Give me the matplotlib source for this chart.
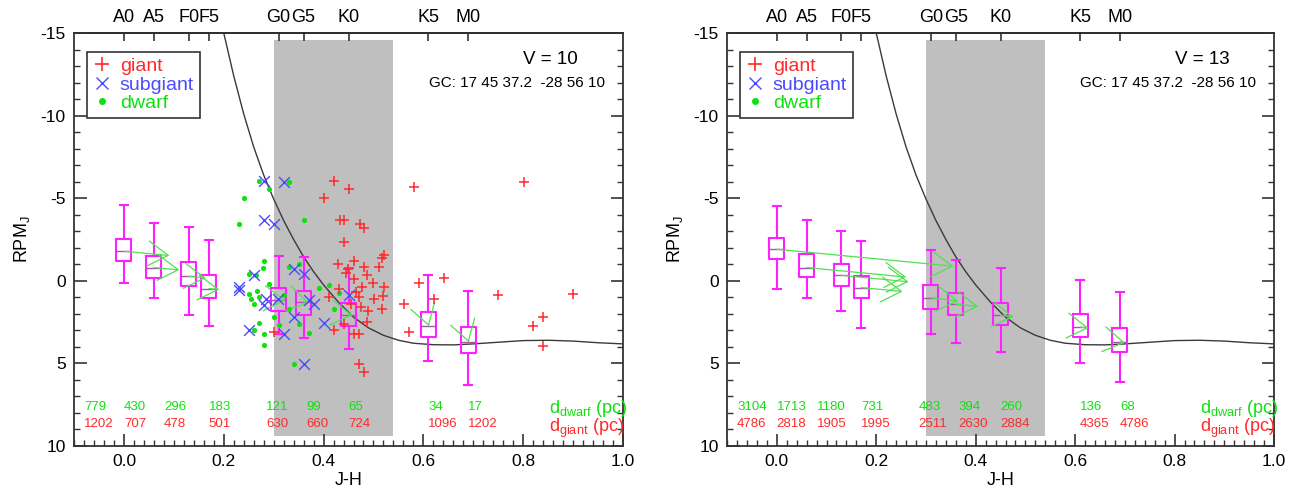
import numpy as np
import matplotlib
matplotlib.use("Agg")
import matplotlib.pyplot as plt
from matplotlib.lines import Line2D
from matplotlib.patches import Rectangle
from matplotlib.ticker import MultipleLocator, FormatStrFormatter

plt.rcParams['font.family'] = ['Liberation Sans', 'DejaVu Sans']
plt.rcParams['mathtext.fontset'] = 'custom'
plt.rcParams['mathtext.rm'] = 'Liberation Sans'
plt.rcParams['mathtext.it'] = 'Liberation Sans:italic'
plt.rcParams['axes.unicode_minus'] = False

# spectral types (top axis) and box positions
spec_names = ["A0", "A5", "F0", "F5", "G0", "G5", "K0", "K5", "M0"]
spec_jh = [0.0, 0.06, 0.13, 0.17, 0.31, 0.36, 0.45, 0.61, 0.69]

# box statistics, V = 10
l_whislo = [-4.6, -3.5, -3.26, -2.44, -1.5, -1.44, -0.78, -0.33, 0.64]
l_q1 = [-2.56, -1.53, -1.14, -0.33, 0.43, 0.64, 1.32, 1.89, 2.8]
l_med = [-1.79, -0.8, -0.27, 0.47, 1.14, 1.28, 2.05, 2.74, 3.71]
l_q3 = [-1.2, -0.19, 0.33, 1.02, 1.83, 2.09, 2.74, 3.4, 4.35]
l_whishi = [0.13, 1.04, 2.09, 2.76, 3.2, 3.47, 4.15, 4.85, 6.3]

# box statistics, V = 13
r_whislo = [-4.53, -3.67, -3.02, -2.41, -1.85, -1.24, -0.8, -0.03, 0.68]
r_q1 = [-2.62, -1.65, -1.04, -0.29, 0.27, 0.72, 1.32, 2.03, 2.86]
r_med = [-1.91, -0.8, -0.33, 0.41, 1.04, 1.42, 2.09, 2.8, 3.7]
r_q3 = [-1.3, -0.25, 0.29, 1.04, 1.69, 2.09, 2.7, 3.4, 4.3]
r_whishi = [0.52, 1.04, 1.83, 2.88, 3.2, 3.75, 4.31, 5.0, 6.1]

# green arrows: start and tip
l_arr_x0 = [0.0, 0.06, 0.13, 0.17, 0.31, 0.36, 0.45, 0.61, 0.69]
l_arr_y0 = [-1.79, -0.8, -0.27, 0.47, 1.14, 1.28, 2.05, 2.64, 3.61]
l_arr_x1 = [0.091, 0.111, 0.164, 0.191, 0.324, 0.371, 0.458, 0.611, 0.691]
l_arr_y1 = [-1.53, -0.66, -0.17, 0.53, 1.18, 1.36, 2.08, 2.74, 3.71]

r_arr_x0 = [0.0, 0.06, 0.13, 0.17, 0.31, 0.36, 0.45, 0.61, 0.69]
r_arr_y0 = [-1.91, -0.8, -0.33, 0.41, 1.04, 1.42, 2.09, 2.8, 3.7]
r_arr_x1 = [0.355, 0.26, 0.265, 0.253, 0.365, 0.405, 0.476, 0.627, 0.70]
r_arr_y1 = [-0.88, -0.23, 0.06, 0.65, 1.22, 1.55, 2.19, 2.86, 3.75]

# distances (pc)
l_d_dwarf = ["779", "430", "296", "183", "121", "99", "65", "34", "17"]
l_d_giant = ["1202", "707", "478", "501", "630", "660", "724", "1096", "1202"]
r_d_dwarf = ["3104", "1713", "1180", "731", "483", "394", "260", "136", "68"]
r_d_giant = ["4786", "2818", "1905", "1995", "2511", "2630", "2884", "4365", "4786"]
d_label_x = [-0.08, 0.0, 0.08, 0.17, 0.285, 0.365, 0.45, 0.61, 0.69]

# limit curve
curve_x = [0.20, 0.22, 0.24, 0.26, 0.28, 0.30, 0.32, 0.34, 0.36, 0.38, 0.40, 0.43,
           0.46, 0.49, 0.52, 0.55, 0.58, 0.62, 0.66, 0.70, 0.75, 0.80, 0.85, 0.90,
           0.95, 1.0]
curve_y = [-15.0, -12.4, -10.1, -8.1, -6.4, -4.95, -3.65, -2.5, -1.45, -0.55, 0.25, 1.3,
           2.2, 2.85, 3.3, 3.6, 3.78, 3.87, 3.88, 3.82, 3.72, 3.62, 3.6, 3.65,
           3.75, 3.82]

# V = 10 stars
giant_x = [0.421, 0.451, 0.401, 0.433, 0.441, 0.474, 0.482, 0.441, 0.428, 0.461,
           0.448, 0.481, 0.511, 0.518, 0.521, 0.461, 0.488, 0.478, 0.521, 0.465,
           0.411, 0.501, 0.518, 0.475, 0.488, 0.421, 0.461, 0.471, 0.301, 0.471,
           0.481, 0.561, 0.571, 0.591, 0.621, 0.641, 0.581, 0.801, 0.750, 0.900,
           0.840, 0.820, 0.840, 0.445, 0.47, 0.50, 0.455, 0.43, 0.52, 0.49, 0.44]
giant_y = [-6.05, -5.53, -5.02, -3.67, -3.67, -3.42, -3.2, -2.35, -1.0, -1.18,
           -0.74, -0.84, -0.84, -1.35, -1.55, -0.13, -0.33, 0.38, 0.38, 0.68,
           0.98, 1.08, 1.69, 1.59, 2.49, 3.0, 3.2, 3.2, 3.1, 5.02,
           5.53, 1.38, 3.1, 0.11, 1.08, -0.18, -5.65, -5.95, 0.88, 0.78,
           2.19, 2.74, 3.95, -0.45, 1.0, 0.15, 1.4, 0.5, 0.9, 1.8, 2.6]
subgiant_x = [0.281, 0.321, 0.281, 0.301, 0.261, 0.231, 0.361, 0.341, 0.281, 0.341,
              0.371, 0.381, 0.401, 0.321, 0.251, 0.361, 0.451, 0.308, 0.231, 0.285]
subgiant_y = [-6.05, -5.99, -3.67, -3.42, -0.33, 0.55, -0.43, -0.74, 1.48, 2.19,
              1.18, 1.38, 2.53, 3.2, 3.0, 5.06, 0.88, 1.08, 0.4, 1.1]
dwarf_x = [0.271, 0.331, 0.291, 0.241, 0.361, 0.231, 0.281, 0.278, 0.251, 0.264,
           0.331, 0.351, 0.391, 0.411, 0.251, 0.261, 0.271, 0.320, 0.331, 0.301,
           0.271, 0.311, 0.351, 0.261, 0.281, 0.371, 0.421, 0.431, 0.281, 0.341,
           0.254, 0.266, 0.29]
dwarf_y = [-6.05, -5.99, -5.53, -5.02, -3.67, -3.42, -1.18, -0.80, -0.43, -0.33,
           -0.84, -1.0, 0.41, 0.23, 0.78, 1.38, 0.98, 0.88, 1.69, 2.19,
           2.53, 2.70, 2.60, 3.0, 3.24, 3.16, 1.73, 0.72, 3.91, 5.06,
           1.12, 0.6, 0.2]

RED = '#ff2a2a'
BLUE = '#4a4aff'
GREEN = '#10e010'
MAG = '#ff20ff'

fig = plt.figure(figsize=(12.99, 4.94), dpi=100)
axL = fig.add_axes([0.0570, 0.0972, 0.4226, 0.8360])
axR = fig.add_axes([0.5597, 0.0972, 0.4211, 0.8360])


def panel(ax, whislo, q1, med, q3, whishi, ax0, ay0, ax1, ay1, ddw, dgi, vtxt):
    ax.set_xlim(-0.1, 1.0)
    ax.set_ylim(10, -15)
    ax.add_patch(Rectangle((0.30, -14.55), 0.24, 23.95, color='#bfbfbf', lw=0, zorder=0))
    ax.plot(curve_x, curve_y, color='#3a3a3a', lw=1.0, zorder=1)

    stats = []
    for i in range(len(spec_jh)):
        stats.append(dict(whislo=whislo[i], q1=q1[i], med=med[i], q3=q3[i], whishi=whishi[i]))
    ax.bxp(stats, positions=spec_jh, widths=0.03, capwidths=0.016, showfliers=False,
           manage_ticks=False,
           boxprops=dict(color=MAG, lw=1.5), whiskerprops=dict(color=MAG, lw=1.5),
           capprops=dict(color=MAG, lw=1.5), medianprops=dict(color='#b050b0', lw=1.0),
           zorder=3)

    for i in range(len(ax0)):
        ax.annotate('', xy=(ax1[i], ay1[i]), xytext=(ax0[i], ay0[i]),
                    arrowprops=dict(arrowstyle='->,head_length=1.45,head_width=0.9',
                                    color='#50e050', lw=0.9, shrinkA=0, shrinkB=0,
                                    mutation_scale=10), zorder=4)

    for i in range(len(d_label_x)):
        ax.text(d_label_x[i], 7.65, ddw[i], color=GREEN, fontsize=9.5, ha='left', va='center')
        ax.text(d_label_x[i], 8.65, dgi[i], color=RED, fontsize=9.5, ha='left', va='center')
    ax.text(0.852, 7.75, r'd$_\mathrm{dwarf}$ (pc)', color=GREEN, fontsize=13,
            ha='left', va='center', clip_on=False)
    ax.text(0.852, 8.95, r'd$_\mathrm{giant}$ (pc)', color=RED, fontsize=13,
            ha='left', va='center', clip_on=False)

    ax.text(0.855, -13.4, vtxt, fontsize=13.5, ha='center', va='center')
    ax.text(0.963, -11.95, 'GC: 17 45 37.2  -28 56 10', fontsize=11, ha='right', va='center')

    handles = [Line2D([], [], marker='+', ls='none', color=RED, ms=10, mew=1.2),
               Line2D([], [], marker='x', ls='none', color=BLUE, ms=9, mew=1.0),
               Line2D([], [], marker='o', ls='none', color=GREEN, ms=4)]
    leg = ax.legend(handles, ['giant', 'subgiant', 'dwarf'], loc='upper left',
                    bbox_to_anchor=(0.023, 0.955), borderaxespad=0, fontsize=14,
                    fancybox=False, edgecolor='#333333', framealpha=1,
                    handlelength=1.0, handletextpad=0.4, labelspacing=0.05,
                    borderpad=0.3, labelcolor=[RED, BLUE, GREEN])
    leg.get_frame().set_linewidth(1.2)

    ax.set_yticks([-15, -10, -5, 0, 5, 10])
    ax.yaxis.set_minor_locator(MultipleLocator(1))
    ax.xaxis.set_major_locator(MultipleLocator(0.2))
    ax.xaxis.set_minor_locator(MultipleLocator(0.02))
    ax.xaxis.set_major_formatter(FormatStrFormatter('%.1f'))
    ax.tick_params(which='both', direction='in', left=True, right=True, top=False,
                   bottom=True, labelsize=12.5, color='#333333')
    ax.tick_params(which='major', length=9, width=1.2, pad=6)
    ax.tick_params(which='minor', length=4.5, width=1.0)
    for s in ax.spines.values():
        s.set_linewidth(1.3)
        s.set_color('#333333')
    ax.set_xlabel('J-H', fontsize=13, labelpad=2)
    ax.set_ylabel(r'RPM$_\mathrm{J}$', fontsize=13, labelpad=6)

    sec = ax.secondary_xaxis('top')
    sec.set_xticks(spec_jh, labels=spec_names)
    sec.tick_params(direction='in', length=6, width=1.2, labelsize=13, pad=5, color='#333333')
    sec.spines['top'].set_linewidth(1.3)


panel(axL, l_whislo, l_q1, l_med, l_q3, l_whishi, l_arr_x0, l_arr_y0, l_arr_x1, l_arr_y1,
      l_d_dwarf, l_d_giant, 'V = 10')
axL.scatter(dwarf_x, dwarf_y, s=14, color=GREEN, lw=0, zorder=5)
axL.scatter(subgiant_x, subgiant_y, s=60, marker='x', color=BLUE, lw=1.0, zorder=5)
axL.scatter(giant_x, giant_y, s=60, marker='+', color=RED, lw=1.1, zorder=5)

panel(axR, r_whislo, r_q1, r_med, r_q3, r_whishi, r_arr_x0, r_arr_y0, r_arr_x1, r_arr_y1,
      r_d_dwarf, r_d_giant, 'V = 13')

fig.savefig('out.png', dpi=100)
